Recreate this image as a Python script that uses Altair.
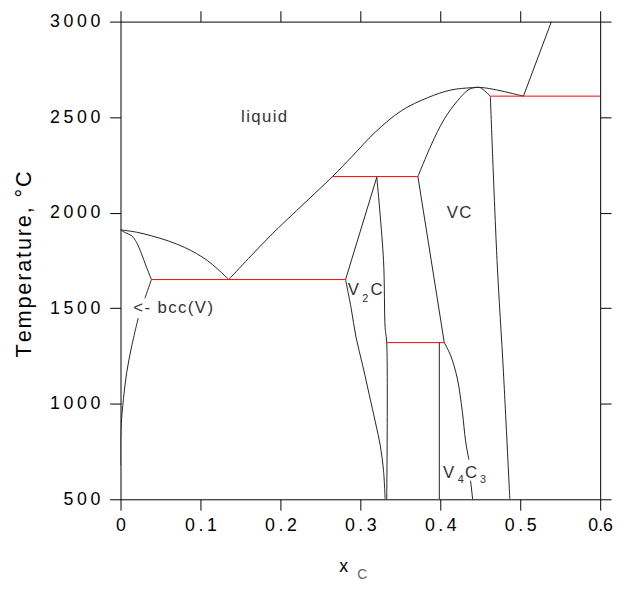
import altair as alt
import pandas as pd

# ---------------- data (x = mole fraction C, T in °C) -------------
liqV_x = [0.0, 0.02, 0.0386, 0.06, 0.0799, 0.095, 0.1086, 0.122, 0.1354]
liqV_T = [1910, 1898, 1879, 1852, 1819, 1786, 1750, 1703, 1650]

bccSol_x = [0.0, 0.0058, 0.014, 0.020, 0.0263, 0.0325, 0.0387]
bccSol_T = [1910, 1896, 1879, 1845, 1785, 1715, 1650]

bccSolvA_x = [0.0387, 0.0345, 0.0305]
bccSolvA_T = [1650, 1600, 1552]
bccSolvB_x = [0.0222, 0.014, 0.0078, 0.0037, 0.0008, 0.0, 0.0]
bccSolvB_T = [1449, 1302, 1165, 1027, 889, 800, 677]

liq_x = [0.1354, 0.16, 0.19, 0.22, 0.2651, 0.2898, 0.3185, 0.3515, 0.3843, 0.4132, 0.4379,
         0.4457, 0.4543, 0.47, 0.49, 0.504]
liq_T = [1650, 1760, 1890, 2010, 2189, 2295, 2421, 2534, 2602, 2642, 2654,
         2656, 2654, 2643, 2624, 2610]

graph_x = [0.504, 0.539]
graph_T = [2610, 3000]

vcLU_x = [0.372, 0.3885, 0.405, 0.4214, 0.4358, 0.4457]
vcLU_T = [2189, 2353, 2490, 2585, 2645, 2656]

vcRU_x = [0.4457, 0.4502, 0.4626]
vcRU_T = [2656, 2654, 2610]

vcR_x = [0.4626, 0.471, 0.479, 0.487]
vcR_T = [2610, 1750, 1165, 500]

vcLL_x = [0.372, 0.405]
vcLL_T = [2189, 1320]

v43RA_x = [0.405, 0.4132, 0.4214, 0.4276, 0.4317, 0.4358]
v43RA_T = [1320, 1250, 1130, 958, 803, 708]
v43RB_x = [0.4379, 0.4405]
v43RB_T = [597, 500]

v43L_x = [0.3988, 0.3988]
v43L_T = [1320, 500]

v2cLU_x = [0.3206, 0.2815]
v2cLU_T = [2186, 1650]

v2cLL_x = [0.2815, 0.2885, 0.2945, 0.303, 0.311, 0.319, 0.325, 0.329, 0.331]
v2cLL_T = [1650, 1500, 1350, 1200, 1050, 900, 780, 650, 500]

v2cR_x = [0.3206, 0.329, 0.331, 0.333, 0.333]
v2cR_T = [2186, 1750, 1400, 1320, 500]

# invariant (red) lines
red_T = [1650, 2189, 1320, 2610]
red_x1 = [0.0387, 0.2651, 0.333, 0.4626]
red_x2 = [0.2815, 0.372, 0.405, 0.6]

# phase labels
lab_text = ["liquid", "VC", "<- bcc(V)", "V", "C", "V", "C"]
lab_x = [0.1796, 0.4235, 0.016, 0.2914, 0.3204, 0.4105, 0.4385]
lab_T = [2500, 2000, 1500, 1595, 1595, 639, 639]
lab_align = ["center", "center", "left", "center", "center", "center", "center"]

sub_text = ["2", "3", "4"]
sub_x = [0.3062, 0.4535, 0.4255]
sub_T = [1546, 601, 601]

x_ticks = [0, 0.1, 0.2, 0.3, 0.4, 0.5, 0.6]
y_ticks = [500, 1000, 1500, 2000, 2500, 3000]

# ---------------- build tables -------------
segments = [
    ("liqV", liqV_x, liqV_T), ("bccSol", bccSol_x, bccSol_T),
    ("bccSolvA", bccSolvA_x, bccSolvA_T), ("bccSolvB", bccSolvB_x, bccSolvB_T),
    ("liq", liq_x, liq_T), ("graph", graph_x, graph_T),
    ("vcLU", vcLU_x, vcLU_T), ("vcRU", vcRU_x, vcRU_T), ("vcR", vcR_x, vcR_T),
    ("vcLL", vcLL_x, vcLL_T), ("v43RA", v43RA_x, v43RA_T), ("v43RB", v43RB_x, v43RB_T),
    ("v43L", v43L_x, v43L_T), ("v2cLU", v2cLU_x, v2cLU_T), ("v2cLL", v2cLL_x, v2cLL_T),
    ("v2cR", v2cR_x, v2cR_T),
]
rows = []
for name, xs, ts in segments:
    for i, (a, b) in enumerate(zip(xs, ts)):
        rows.append({"seg": name, "i": i, "x": a, "T": b})
lines_df = pd.DataFrame(rows)
red_df = pd.DataFrame({"x1": red_x1, "x2": red_x2, "T": red_T})
lab_df = pd.DataFrame({"text": ["\u200a".join(list(t)) for t in lab_text],
                       "x": lab_x, "T": lab_T, "align": lab_align})
sub_df = pd.DataFrame({"text": sub_text, "x": sub_x, "T": sub_T})

FONT = "Liberation Sans"
xscale = alt.Scale(domain=[0, 0.6], nice=False, zero=False)
yscale = alt.Scale(domain=[500, 3000], nice=False, zero=False)
spaced = "join(split('' + datum.value, ''), '\u2009')"
spaced_x = "datum.value >= 0.6 ? ('' + datum.value) : join(split('' + datum.value, ''), '\u2009')"

common_axis = dict(grid=False, domainColor="black", tickColor="black", domainWidth=1,
                   tickWidth=1, tickSize=11, title=None, labelFont=FONT, labelFontSize=18,
                   labelColor="black", labelFlush=False, labelOverlap=False)

ax_bottom = alt.Axis(orient="bottom", values=x_ticks, labelPadding=7, labelExpr=spaced_x, **common_axis)
ax_left = alt.Axis(orient="left", values=y_ticks, labelPadding=10, labelExpr=spaced, **common_axis)
ax_top = alt.Axis(orient="top", values=x_ticks, labels=False, **common_axis)
ax_right = alt.Axis(orient="right", values=y_ticks, labels=False, **common_axis)

curves = alt.Chart(lines_df).mark_line(color="#222", strokeWidth=1, interpolate="catmull-rom",
                                       clip=True).encode(
    x=alt.X("x:Q", scale=xscale, axis=ax_bottom),
    y=alt.Y("T:Q", scale=yscale, axis=ax_left),
    detail="seg:N",
    order="i:Q",
)

frame = alt.Chart(lines_df).mark_point(opacity=0).encode(
    x=alt.X("x:Q", scale=xscale, axis=ax_top),
    y=alt.Y("T:Q", scale=yscale, axis=ax_right),
)

reds = alt.Chart(red_df).mark_rule(color="#ff0000", strokeWidth=1).encode(
    x=alt.X("x1:Q", scale=xscale, axis=None),
    x2="x2:Q",
    y=alt.Y("T:Q", scale=yscale, axis=None),
)

labels_c = alt.Chart(lab_df[lab_df["align"] == "center"]).mark_text(
    font=FONT, fontSize=17, color="#333", baseline="middle", align="center").encode(
    x=alt.X("x:Q", scale=xscale, axis=None),
    y=alt.Y("T:Q", scale=yscale, axis=None),
    text="text:N",
)
labels_l = alt.Chart(lab_df[lab_df["align"] == "left"]).mark_text(
    font=FONT, fontSize=17, color="#333", baseline="middle", align="left").encode(
    x=alt.X("x:Q", scale=xscale, axis=None),
    y=alt.Y("T:Q", scale=yscale, axis=None),
    text="text:N",
)
subs = alt.Chart(sub_df).mark_text(font=FONT, fontSize=11, color="#333", baseline="middle", align="center").encode(
    x=alt.X("x:Q", scale=xscale, axis=None),
    y=alt.Y("T:Q", scale=yscale, axis=None),
    text="text:N",
)

ytitle = alt.Chart(pd.DataFrame({"t": ["\u200a".join(list("Temperature, °C"))]})).mark_text(
    font=FONT, fontSize=22, color="black", angle=270, align="center", baseline="middle").encode(
    text="t:N", x=alt.value(-98), y=alt.value(246))
xtitle_x = alt.Chart(pd.DataFrame({"t": ["x"]})).mark_text(
    font=FONT, fontSize=18, color="black", align="center", baseline="alphabetic").encode(
    text="t:N", x=alt.value(226), y=alt.value(558))
xtitle_c = alt.Chart(pd.DataFrame({"t": ["C"]})).mark_text(
    font=FONT, fontSize=14, color="#666", align="center", baseline="alphabetic").encode(
    text="t:N", x=alt.value(245), y=alt.value(565))

chart = alt.layer(curves, frame, reds, labels_c, labels_l, subs, ytitle, xtitle_x, xtitle_c).resolve_axis(
    x="independent", y="independent"
).properties(
    width=486, height=484,
    autosize=alt.AutoSizeParams(type="none"),
    padding={"left": 114, "top": 10, "right": 13, "bottom": 80},
).configure_view(stroke=None)

chart.save("out.html", embed_options={"renderer": "svg", "actions": False})
